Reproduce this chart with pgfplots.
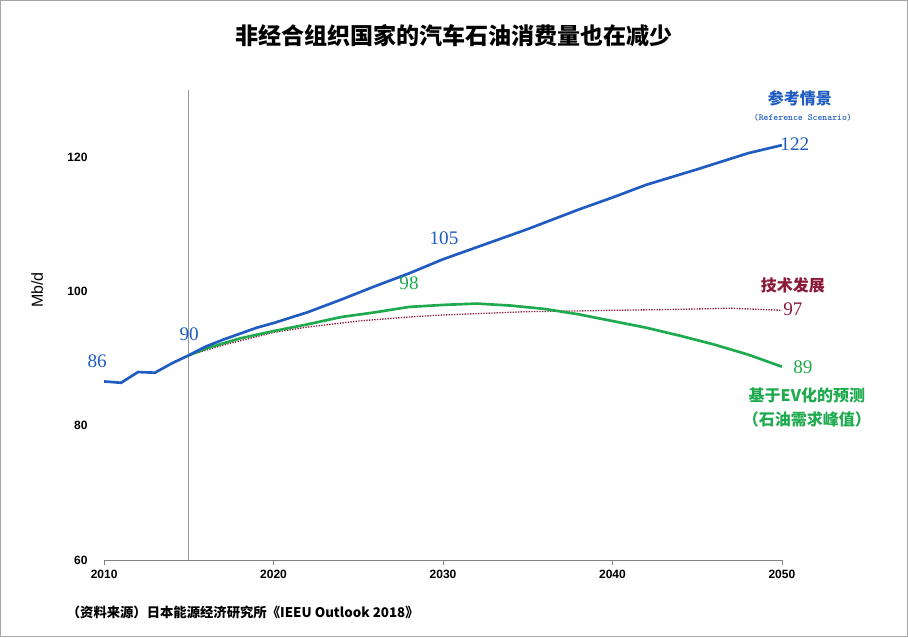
\documentclass[border=0pt]{standalone}
\usepackage{pgfplots}
\pgfplotsset{compat=1.18}
\usepackage{fontspec}
\setmainfont{Liberation Serif}
\setsansfont{Liberation Sans}
\newfontfamily\cjk{Noto Sans CJK SC}
\definecolor{cb}{HTML}{1F5BC0}
\definecolor{cg}{HTML}{1FAA4F}
\definecolor{cr}{HTML}{8B1A3A}
\begin{document}
\begin{tikzpicture}[x=0.75pt,y=-0.75pt]
\draw[gray!70,line width=1pt] (0.5,0.5) rectangle (907.5,636.5);
\begin{axis}[at={(78pt,-420pt)},anchor=south west,scale only axis,
 width=508.5pt,height=352.5pt,xmin=2010,xmax=2050,ymin=60,ymax=130,
 axis x line=bottom, axis y line=none, x axis line style={gray,-},
 xtick={2010,2020,2030,2040,2050}, ytick={60,80,100,120},
 xtick style={gray}, tick align=outside, major tick length=4pt,
 xticklabel style={font=\sffamily\bfseries\small},
 clip=false, /pgf/number format/1000 sep={}, /pgf/number format/assume math mode=true]
\addplot[gray!80,line width=0.8pt] coordinates {(2015,60)(2015,130)};
\addplot[cr,densely dotted,line width=1pt] coordinates {(2015,90.5)(2017,92.0)(2020,93.9)(2022,94.7)(2025,95.6)(2028,96.2)(2030,96.5)(2033,96.8)(2035,97.0)(2038,97.1)(2040,97.2)(2043,97.3)(2045,97.4)(2047,97.5)(2050,97.2)};
\addplot[cg,line width=2pt] coordinates {(2015,90.5)(2016,91.5)(2018,93.0)(2020,94.1)(2022,95.1)(2024,96.2)(2026,96.9)(2028,97.7)(2030,98.0)(2032,98.2)(2034,97.9)(2036,97.4)(2038,96.6)(2040,95.6)(2042,94.6)(2044,93.4)(2046,92.1)(2048,90.6)(2050,88.8)};
\addplot[cb,line width=2pt] coordinates {(2010,86.6)(2011,86.4)(2012,88.0)(2013,87.9)(2014,89.3)(2015,90.5)(2016,91.8)(2017,92.8)(2018,93.7)(2019,94.6)(2020,95.3)(2022,96.9)(2024,98.8)(2026,100.8)(2028,102.7)(2030,104.8)(2032,106.6)(2035,109.3)(2038,112.2)(2040,114)(2042,115.9)(2045,118.2)(2048,120.6)(2050,121.8)};
\end{axis}
\foreach \v/\yy in {120/157,100/291,80/425,60/560} \node[anchor=east,font=\sffamily\bfseries\small] at (92,\yy) {\v};
\node[rotate=90,font=\sffamily\large] at (37,290) {Mb/d};
\node[font=\cjk\bfseries\LARGE] at (454,35) {非经合组织国家的汽车石油消费量也在减少};
\node[cb,font=\cjk\bfseries\large] at (800,98) {参考情景};
\node[cb,font=\ttfamily\bfseries\scriptsize] at (803,118) {(Reference Scenario)};
\node[cb,font=\Large] at (795,144) {122};
\node[cb,font=\Large] at (444,238) {105};
\node[cg,font=\Large] at (409,283) {98};
\node[cb,font=\Large] at (189,334) {90};
\node[cb,font=\Large] at (97,361) {86};
\node[cr,font=\cjk\bfseries\large] at (793,285) {技术发展};
\node[cr,font=\Large] at (793,309) {97};
\node[cg,font=\Large] at (803,367) {89};
\node[cg,font=\cjk\bfseries\large] at (807,395) {基于EV化的预测};
\node[cg,font=\cjk\bfseries\large] at (807,419) {（石油需求峰值）};
\node[anchor=west,font=\cjk\bfseries] at (62,612) {（资料来源）日本能源经济研究所《IEEU Outlook 2018》};
\end{tikzpicture}
\end{document}
